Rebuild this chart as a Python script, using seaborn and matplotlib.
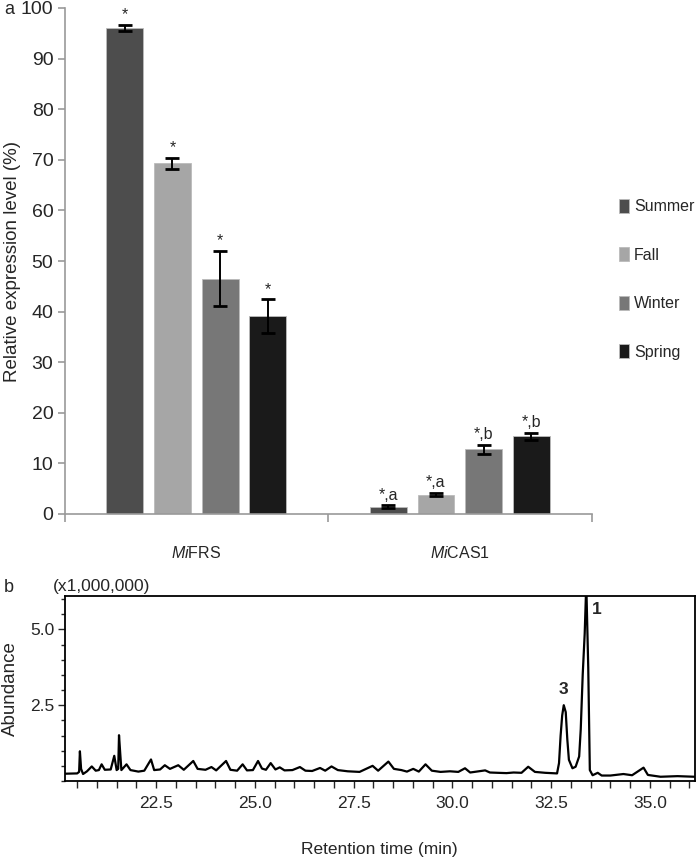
import numpy as np
import pandas as pd
import matplotlib
matplotlib.use("Agg")
from matplotlib import pyplot as plt
from matplotlib.ticker import MultipleLocator, FixedLocator
import seaborn as sns

# panel a: relative expression level (%)
genes = ["MiFRS", "MiCAS1"]
gene_labels = [r"$\mathit{Mi}$FRS", r"$\mathit{Mi}$CAS1"]
seasons = ["Summer", "Fall", "Winter", "Spring"]
season_colors = ["#4d4d4d", "#a6a6a6", "#777777", "#1a1a1a"]
frs_mean = [96.0, 69.3, 46.5, 39.1]
frs_err = [0.6, 1.1, 5.4, 3.3]
cas_mean = [1.4, 3.8, 12.8, 15.4]
cas_err = [0.3, 0.3, 0.9, 0.7]
frs_marks = ["*", "*", "*", "*"]
cas_marks = ["*,a", "*,a", "*,b", "*,b"]

# panel b: chromatogram, retention time (min) vs abundance (x1,000,000)
rt = [20.18, 20.50, 20.55, 20.57, 20.60, 20.65, 20.75, 20.87, 20.97, 21.05,
      21.12, 21.20, 21.35, 21.44, 21.50, 21.54, 21.56, 21.59, 21.62, 21.75,
      21.85, 22.05, 22.20, 22.37, 22.45, 22.60, 22.72, 22.85, 23.06, 23.20,
      23.44, 23.55, 23.75, 23.90, 24.02, 24.27, 24.38, 24.55, 24.69, 24.80,
      24.95, 25.08, 25.18, 25.28, 25.40, 25.52, 25.63, 25.75, 25.95, 26.14,
      26.28, 26.45, 26.65, 26.78, 26.94, 27.10, 27.35, 27.65, 27.98, 28.12,
      28.38, 28.52, 28.71, 28.85, 29.01, 29.15, 29.32, 29.48, 29.70, 29.94,
      30.15, 30.32, 30.45, 30.83, 30.95, 31.15, 31.37, 31.55, 31.75, 31.92,
      32.09, 32.35, 32.65, 32.70, 32.74, 32.78, 32.82, 32.87, 32.91, 32.95,
      33.04, 33.12, 33.21, 33.25, 33.30, 33.35, 33.39, 33.44, 33.48, 33.55,
      33.68, 33.78, 34.00, 34.33, 34.55, 34.84, 34.95, 35.27, 35.70, 36.13]
abundance = [0.24, 0.25, 0.30, 0.98, 0.40, 0.23, 0.32, 0.48, 0.34, 0.36,
             0.55, 0.37, 0.38, 0.83, 0.36, 0.40, 1.51, 0.93, 0.36, 0.55,
             0.36, 0.31, 0.34, 0.71, 0.36, 0.38, 0.52, 0.40, 0.52, 0.37,
             0.66, 0.40, 0.37, 0.46, 0.35, 0.66, 0.37, 0.34, 0.55, 0.35,
             0.36, 0.66, 0.41, 0.37, 0.59, 0.38, 0.45, 0.35, 0.36, 0.46,
             0.34, 0.33, 0.43, 0.34, 0.48, 0.36, 0.32, 0.30, 0.50, 0.34,
             0.64, 0.40, 0.36, 0.31, 0.40, 0.31, 0.55, 0.34, 0.30, 0.32,
             0.30, 0.42, 0.28, 0.35, 0.28, 0.27, 0.26, 0.28, 0.27, 0.47,
             0.30, 0.27, 0.25, 0.59, 1.49, 2.16, 2.50, 2.27, 1.37, 0.70,
             0.42, 0.47, 0.81, 1.71, 3.51, 4.86, 6.50, 3.74, 0.36, 0.19,
             0.27, 0.18, 0.18, 0.23, 0.19, 0.44, 0.20, 0.14, 0.16, 0.14]
peak_labels = ["1", "3"]
peak_rt = [33.39, 32.82]
peak_height = [6.1, 2.5]

sns.set_style("white")
plt.rcParams["font.family"] = ["Liberation Sans", "DejaVu Sans"]
plt.rcParams["mathtext.fontset"] = "custom"
plt.rcParams["mathtext.rm"] = "Liberation Sans"
plt.rcParams["mathtext.it"] = "Liberation Sans:italic"

W, H = 697, 857
fig = plt.figure(figsize=(W / 100, H / 100), dpi=100)

# ---- panel a ----
ax = fig.add_axes([64.5 / W, 1 - 514 / H, (591.6 - 64.5) / W, (514 - 8) / H])
df = pd.DataFrame({
    "gene": [g for g in genes for _ in seasons],
    "season": seasons * 2,
    "value": frs_mean + cas_mean,
})
sns.barplot(data=df, x="gene", y="value", hue="season", order=genes,
            hue_order=seasons, palette=season_colors, width=0.724, gap=0.227,
            errorbar=None, saturation=1, edgecolor="#bbbbbb", linewidth=0.6,
            legend=True, ax=ax)

means = [frs_mean, cas_mean]
errs = [frs_err, cas_err]
marks = [frs_marks, cas_marks]
bar_groups = list(ax.containers)
for j, cont in enumerate(bar_groups):
    for i, bar in enumerate(cont.patches):
        xc = bar.get_x() + bar.get_width() / 2
        m, e = means[i][j], errs[i][j]
        ax.errorbar(xc, m, yerr=e, color="black", capsize=5, capthick=2, elinewidth=1.4)
        ax.annotate(marks[i][j], (xc, m + e), xytext=(0, 2), textcoords="offset points",
                    ha="center", va="bottom", fontsize=11.5)

ax.set_xlim(-0.5, 1.5)
ax.set_ylim(0, 100)
ax.set_yticks(range(0, 101, 10))
ax.set_xticks([0, 1])
ax.set_xticklabels(gene_labels)
ax.xaxis.set_minor_locator(FixedLocator([-0.5, 0.5, 1.5]))
ax.tick_params(axis="x", which="major", length=0, pad=22, labelsize=11.5)
ax.tick_params(axis="x", which="minor", length=6, width=1.2, color="#999999", direction="out", bottom=True)
ax.tick_params(axis="y", length=5, width=1.2, color="#999999", direction="out", left=True, labelsize=14, pad=3)
for s in ["top", "right"]:
    ax.spines[s].set_visible(False)
for s in ["left", "bottom"]:
    ax.spines[s].set_color("#999999")
    ax.spines[s].set_linewidth(1.2)
ax.set_xlabel("")
ax.set_ylabel("Relative expression level (%)", fontsize=13.5)
ax.yaxis.set_label_coords(-0.082, 0.5)

handles, labels = ax.get_legend_handles_labels()
ax.legend_.remove()
fig.legend(handles, labels, loc="upper left", bbox_to_anchor=(619 / W, 1 - 199 / H),
           frameon=False, fontsize=11.5, handlelength=0.65, handleheight=0.95,
           handletextpad=0.3, labelspacing=2.07, borderpad=0, borderaxespad=0)

fig.text(9 / W, 1 - 10 / H, "a", fontsize=13, ha="center", va="center")

# ---- panel b ----
axb = fig.add_axes([64.5 / W, 1 - 781 / H, (694.5 - 64.5) / W, (781 - 596) / H])
sns.lineplot(x=rt, y=abundance, estimator=None, color="black", linewidth=1.6, ax=axb)
axb.set_xlim(20.18, 36.13)
axb.set_ylim(0, 6.1)
axb.xaxis.set_major_locator(FixedLocator([22.5, 25.0, 27.5, 30.0, 32.5, 35.0]))
axb.xaxis.set_minor_locator(MultipleLocator(0.5))
axb.yaxis.set_major_locator(FixedLocator([2.5, 5.0]))
axb.yaxis.set_minor_locator(MultipleLocator(0.5))
axb.set_xticklabels(["22.5", "25.0", "27.5", "30.0", "32.5", "35.0"])
axb.set_yticklabels(["2.5", "5.0"])
axb.tick_params(axis="x", which="both", length=5, width=1, direction="out", bottom=True, labelsize=12.5, pad=6)
axb.tick_params(axis="y", which="major", length=5, width=1, direction="out", left=True, labelsize=12.5, pad=2)
axb.tick_params(axis="y", which="minor", length=3, width=1, direction="out", left=True)
for s in axb.spines.values():
    s.set_color("black")
    s.set_linewidth(1.3)
for lab, x, y in zip(peak_labels, peak_rt, peak_height):
    if lab == "1":
        axb.annotate(lab, (x, y), xytext=(4, -4), textcoords="offset points",
                     ha="left", va="top", fontsize=12.5, fontweight="bold")
    else:
        axb.annotate(lab, (x, y), xytext=(0, 6), textcoords="offset points",
                     ha="center", va="bottom", fontsize=12.5, fontweight="bold")
axb.set_xlabel("Retention time (min)", fontsize=12.5, labelpad=22)
axb.set_ylabel("Abundance", fontsize=13.5)
axb.yaxis.set_label_coords(-0.072, 0.5)

fig.text(102 / W, 1 - 586 / H, "(x1,000,000)", fontsize=12.5, ha="center", va="center")
fig.text(9 / W, 1 - 587 / H, "b", fontsize=13, ha="center", va="center")

fig.savefig("out.png", dpi=100)
